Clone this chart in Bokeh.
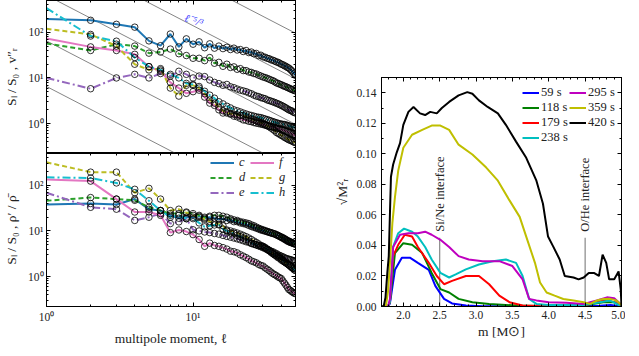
import math
from bokeh.plotting import figure
from bokeh.layouts import row, column
from bokeh.models import (LogAxis, LinearAxis, FixedTicker, Range1d, Legend, LegendItem,
                          Label, PrintfTickFormatter, CustomJSTickFormatter)
from bokeh.embed import file_html
from bokeh.resources import INLINE

# ---------------- data: left panels (multipole spectra) ----------------
ell = list(range(1, 51))

vr_c = [197, 184, 150, 130, 65, 51, 92, 48, 72, 55,
        62, 46, 56, 45, 50, 44, 47, 42, 45, 41,
        42, 38, 40, 36, 37, 34, 34.5, 31, 31.5, 29,
        28.5, 27, 26.5, 25, 24.5, 23.5, 22.5, 22, 21, 20,
        19.5, 18.5, 18, 17, 16.5, 15.5, 14.5, 13.5, 12.5, 11.5]
vr_d = [57, 40, 55, 50, 35, 37, 43, 34, 31, 27,
        27, 24, 28, 21, 22, 18, 20, 17, 17.5, 15.5,
        16, 14.5, 14.5, 13.5, 13.2, 12.5, 12.2, 11.5, 11, 10.5,
        10.2, 9.8, 9.4, 9.0, 8.7, 8.3, 7.8, 7.6, 7.3, 7.1,
        6.8, 6.6, 6.4, 6.2, 6.0, 5.8, 5.6, 5.5, 5.3, 5.2]
vr_e = [10, 5.8, 10, 12, 10, 12.5, 11, 14, 12, 10,
        11, 10.7, 9, 8, 7.5, 6.9, 7.2, 6.4, 6.1, 5.7,
        5.4, 5.2, 5.0, 4.7, 4.5, 4.2, 4.0, 3.9, 3.7, 3.6,
        3.5, 3.3, 3.2, 3.1, 3.0, 2.9, 2.8, 2.7, 2.6, 2.5,
        2.4, 2.3, 2.2, 2.1, 2.0, 1.95, 1.9, 1.8, 1.75, 1.7]
vr_f = [73, 48, 40, 33, 17.7, 14, 8, 6, 4.6, 5,
        5.4, 3.8, 2.8, 2.5, 2.0, 1.7, 1.8, 1.6, 1.45, 1.4,
        1.3, 1.2, 1.18, 1.12, 1.1, 1.05, 1.02, 1.0, 0.97, 0.95,
        0.92, 0.9, 0.88, 0.86, 0.84, 0.82, 0.8, 0.78, 0.76, 0.74,
        0.72, 0.7, 0.68, 0.66, 0.64, 0.62, 0.6, 0.58, 0.56, 0.54]
vr_g = [120, 90, 50, 20, 15, 16, 6, 4, 6.9, 6.9,
        6, 4.5, 3.3, 2.8, 2.3, 1.9, 1.7, 1.65, 1.6, 1.55,
        1.5, 1.5, 1.4, 1.32, 1.25, 1.2, 1.15, 1.1, 1.05, 1.0,
        0.95, 0.9, 0.85, 0.8, 0.75, 0.7, 0.64, 0.61, 0.58, 0.55,
        0.53, 0.5, 0.48, 0.46, 0.44, 0.43, 0.42, 0.4, 0.39, 0.38]
vr_h = [340, 83, 64, 28, 17.7, 15, 12, 10, 7.6, 7.2,
        6.5, 5.1, 4.2, 3.6, 3.0, 2.7, 2.4, 2.2, 2.0, 1.9,
        1.8, 1.7, 1.62, 1.55, 1.5, 1.45, 1.4, 1.37, 1.35, 1.3,
        1.26, 1.22, 1.18, 1.14, 1.1, 1.07, 1.04, 1.01, 0.99, 0.97,
        0.96, 0.95, 0.93, 0.91, 0.89, 0.87, 0.85, 0.83, 0.82, 0.8]

rho_c = [38, 40, 38, 50, 30, 28, 22, 19, 20, 20,
         21, 19, 20, 19, 18, 18.5, 17, 17.5, 16, 16,
         15, 14.5, 14, 13.2, 12.5, 12, 11.5, 11, 10.5, 10.2,
         9.9, 9.6, 9.3, 9.0, 8.8, 8.6, 8.3, 8.0, 7.6, 7.2,
         6.9, 6.6, 6.3, 6.0, 5.8, 5.6, 5.5, 5.4, 5.3, 5.2]
rho_d = [46, 54, 50, 47, 33, 28, 24, 24, 26, 24,
         22, 20, 21, 22, 22, 21, 20, 18.6, 17.5, 17,
         16, 15.5, 15, 14.5, 13.6, 13, 12.2, 11.5, 11, 10.6,
         10.2, 9.8, 9.5, 9.2, 8.9, 8.6, 8.2, 7.9, 7.6, 7.4,
         7.1, 6.8, 6.5, 6.2, 6.0, 5.8, 5.6, 5.4, 5.2, 5.1]
rho_e = [69, 33, 30, 17, 20, 24, 14.5, 15.8, 18.6, 10.6,
         10, 9.5, 9.2, 8.8, 8.5, 8.0, 7.6, 7.3, 7.0, 6.7,
         6.4, 6.1, 5.8, 5.6, 5.3, 5.1, 4.9, 4.7, 4.5, 4.3,
         4.1, 3.9, 3.8, 3.6, 3.5, 3.3, 3.2, 3.0, 2.9, 2.8,
         2.7, 2.6, 2.5, 2.45, 2.4, 2.35, 2.3, 2.25, 2.2, 2.15]
rho_f = [134, 124, 50, 26, 26, 22, 9.2, 10.5, 9.7, 8.3,
         6.5, 4.6, 5.4, 4.8, 4.6, 4.3, 4.0, 3.6, 3.5, 3.3,
         3.0, 2.8, 2.6, 2.4, 2.2, 2.1, 2.0, 1.85, 1.75, 1.7,
         1.55, 1.45, 1.35, 1.25, 1.16, 1.1, 1.05, 0.98, 0.94, 0.9,
         0.8, 0.72, 0.65, 0.58, 0.52, 0.5, 0.47, 0.45, 0.43, 0.42]
rho_g = [320, 195, 195, 69, 86, 50, 28, 30, 25, 22,
         20, 18, 16, 15, 14, 13, 10.5, 10, 9.5, 9,
         8.5, 8, 7.5, 7, 6.5, 6, 5.6, 5.2, 4.8, 4.6,
         4.3, 4.0, 3.7, 3.5, 3.2, 3.0, 2.8, 2.6, 2.5, 2.3,
         2.2, 2.1, 2.0, 1.9, 1.8, 1.7, 1.6, 1.55, 1.5, 1.45]
rho_h = [150, 145, 113, 82, 46, 28, 20, 22, 18.6, 18.6,
         15, 12.3, 13, 13.5, 13.6, 11, 10, 9, 8.9, 8,
         7.5, 7, 6.5, 6, 5.4, 5.2, 5, 4.8, 4.7, 4.6,
         4.3, 4.0, 3.7, 3.4, 3.2, 3.0, 2.9, 2.8, 2.7, 2.5,
         2.3, 2.1, 2.0, 1.9, 1.8, 1.7, 1.6, 1.5, 1.4, 1.35]

series_names = ["c", "d", "e", "f", "g", "h"]
series_colors = ["#1f77b4", "#2ca02c", "#9467bd", "#e377c2", "#bcbd22", "#17becf"]
series_dash = ["solid", "5 3", "8 3 2 3", "solid", "5 3", "8 3 2 3"]
vr_all = [vr_c, vr_d, vr_e, vr_f, vr_g, vr_h]
rho_all = [rho_c, rho_d, rho_e, rho_f, rho_g, rho_h]

# reference power-law lines  A * l^(-5/3)
ref_amp = [6.5, 65, 650, 6500, 65000]
ref_slope = -5.0 / 3.0
ref_ell = [1, 50]

# ---------------- data: right panel (Mach number profiles) ----------------
m_59 = [1.70, 1.79, 1.816, 1.885, 1.98, 2.09, 2.2, 2.35, 2.44, 2.56, 2.67, 2.86, 3.09, 4.0, 4.7, 4.85, 5.0]
v_59 = [0, 0, 0.002, 0.024, 0.032, 0.032, 0.0286, 0.024, 0.0135, 0.005, 0.002, 0.0006, 0.0002, 0.0001, 0.0005, 0.001, 0]
m_118 = [1.70, 1.79, 1.816, 1.885, 2.0, 2.12, 2.26, 2.39, 2.51, 2.63, 2.76, 2.95, 3.18, 3.55, 4.0, 4.48, 4.75, 4.9, 5.0]
v_118 = [0, 0, 0.003, 0.035, 0.0415, 0.0404, 0.035, 0.022, 0.0114, 0.0092, 0.005, 0.0028, 0.0017, 0.0006, 0.0002, 0.0006, 0.0028, 0.0028, 0]
m_179 = [1.70, 1.79, 1.816, 1.86, 1.93, 2.02, 2.12, 2.2, 2.35, 2.46, 2.56, 2.67, 2.86, 3.04, 3.18, 3.32, 3.46, 3.64, 4.0, 4.48, 4.75, 4.9, 5.0]
v_179 = [0, 0, 0.003, 0.033, 0.0404, 0.047, 0.0458, 0.039, 0.0286, 0.02, 0.0146, 0.0168, 0.02, 0.02, 0.0146, 0.0071, 0.0028, 0.0006, 0.0002, 0.0006, 0.004, 0.005, 0]
m_238 = [1.70, 1.79, 1.816, 1.86, 1.93, 2.01, 2.12, 2.2, 2.3, 2.39, 2.51, 2.63, 2.72, 2.86, 3.04, 3.23, 3.41, 3.55, 3.64, 3.73, 3.83, 4.0, 4.48, 4.7, 4.84, 5.0]
v_238 = [0, 0, 0.003, 0.039, 0.048, 0.051, 0.049, 0.0458, 0.039, 0.0308, 0.022, 0.019, 0.021, 0.0243, 0.0275, 0.0297, 0.0308, 0.0286, 0.02, 0.005, 0.0017, 0.001, 0.001, 0.0028, 0.004, 0]
m_295 = [1.70, 1.79, 1.816, 1.86, 1.955, 2.07, 2.2, 2.3, 2.39, 2.51, 2.63, 2.76, 2.9, 3.09, 3.32, 3.5, 3.64, 3.73, 3.83, 4.0, 4.24, 4.48, 4.66, 4.8, 4.9, 5.0]
v_295 = [0, 0, 0.005, 0.039, 0.047, 0.048, 0.048, 0.049, 0.047, 0.0437, 0.039, 0.033, 0.0308, 0.0297, 0.0297, 0.0265, 0.0178, 0.005, 0.004, 0.0028, 0.0024, 0.0017, 0.004, 0.006, 0.0054, 0.001]
m_359 = [1.70, 1.76, 1.79, 1.816, 1.85, 1.885, 1.93, 2.0, 2.12, 2.26, 2.39, 2.51, 2.63, 2.76, 2.95, 3.14, 3.30, 3.46, 3.60, 3.69, 3.81, 3.88, 3.97, 4.08, 4.20, 4.34, 4.48, 4.57, 4.66, 4.75, 4.84, 4.93, 5.0]
v_359 = [0, 0, 0.01, 0.0286, 0.055, 0.0716, 0.089, 0.104, 0.1125, 0.1157, 0.1185, 0.1185, 0.1157, 0.106, 0.0996, 0.091, 0.0824, 0.0695, 0.0587, 0.0458, 0.0286, 0.0157, 0.0092, 0.0071, 0.0049, 0.0039, 0.0028, 0.0017, 0.0039, 0.0049, 0.005, 0.004, 0.001]
m_420 = [1.70, 1.73, 1.755, 1.78, 1.80, 1.83, 1.86, 1.91, 1.955, 2.0, 2.07, 2.14, 2.23, 2.30, 2.37, 2.46, 2.53, 2.63, 2.76, 2.88, 2.95, 3.04, 3.16, 3.30, 3.41, 3.55, 3.69, 3.83, 3.92, 3.99, 4.06, 4.15, 4.22, 4.34, 4.41, 4.48, 4.55, 4.62, 4.69, 4.74, 4.79, 4.83, 4.90, 4.96, 4.99, 5.0]
v_420 = [0, 0, 0.006, 0.022, 0.033, 0.085, 0.093, 0.101, 0.107, 0.119, 0.1275, 0.1307, 0.1265, 0.1254, 0.1275, 0.1265, 0.130, 0.134, 0.1383, 0.1404, 0.1394, 0.135, 0.1307, 0.1265, 0.119, 0.108, 0.0974, 0.0824, 0.0673, 0.0458, 0.0394, 0.0308, 0.02, 0.019, 0.0178, 0.019, 0.022, 0.022, 0.02, 0.034, 0.0286, 0.0178, 0.0178, 0.023, 0.011, 0]

times = ["59 s", "118 s", "179 s", "238 s", "295 s", "359 s", "420 s"]
time_colors = ["#0000ff", "#008000", "#ff0000", "#00bfbf", "#bf00bf", "#bfbf00", "#000000"]
m_all = [m_59, m_118, m_179, m_238, m_295, m_359, m_420]
v_all = [v_59, v_118, v_179, v_238, v_295, v_359, v_420]

interfaces = [2.5, 4.5]
interface_labels = ["Si/Ne interface", "O/He interface"]
interface_top = 0.045

# ---------------- styling helpers ----------------
SERIF = "Liberation Serif"
TXT = "#222222"

log_major = [0.1, 1, 10, 100, 1000]
log_minor = [k * 10.0 ** e for e in (-1, 0, 1, 2) for k in range(2, 10)]
ell_minor = [k * 10.0 ** e for e in (0, 1) for k in range(2, 10)]
sup = {0.1: "10⁻¹", 1: "10⁰", 10: "10¹", 100: "10²", 1000: "10³"}


def style_axis(ax, labels=True):
    ax.major_tick_in = 4
    ax.major_tick_out = 0
    ax.minor_tick_in = 2
    ax.minor_tick_out = 0
    ax.axis_line_color = "black"
    ax.major_tick_line_color = "black"
    ax.minor_tick_line_color = "black"
    ax.major_label_text_font = SERIF
    ax.major_label_text_font_size = "11.5px"
    ax.major_label_text_color = TXT
    ax.axis_label_text_font = SERIF
    ax.axis_label_text_font_size = "13.5px"
    ax.axis_label_text_font_style = "normal"
    ax.axis_label_text_color = TXT
    if not labels:
        ax.formatter = CustomJSTickFormatter(code="return ''")
        ax.major_label_standoff = 0
        ax.major_label_text_font_size = "0px"


def tick_only(cls, ticker):
    ax = cls(ticker=ticker)
    style_axis(ax, labels=False)
    return ax


def left_panel(ylabel, top_panel):
    p = figure(x_axis_type="log", y_axis_type="log",
               x_range=Range1d(1, 50), y_range=Range1d(0.22, 500),
               frame_width=249, frame_height=153,
               min_border_left=44, min_border_right=19,
               min_border_top=0, min_border_bottom=0 if top_panel else 34,
               x_axis_location=None if top_panel else "below",
               toolbar_location=None, output_backend="svg")
    p.grid.visible = False
    p.outline_line_color = "black"
    p.outline_line_width = 1
    p.background_fill_color = "white"
    p.border_fill_color = "white"
    yt = FixedTicker(ticks=log_major, minor_ticks=log_minor)
    xt = FixedTicker(ticks=[1, 10], minor_ticks=ell_minor)
    ya = p.yaxis[0]
    ya.ticker = yt
    ya.major_label_overrides = sup
    ya.axis_label = ylabel
    style_axis(ya)
    ya.major_label_standoff = 3
    ya.axis_label_standoff = 6
    if not top_panel:
        xa = p.xaxis[0]
        xa.ticker = xt
        xa.major_label_overrides = sup
        xa.axis_label = "multipole moment, ℓ"
        style_axis(xa)
        xa.major_label_standoff = 4
        xa.axis_label_standoff = 5
    p.add_layout(tick_only(LogAxis, FixedTicker(ticks=log_major, minor_ticks=log_minor)), "right")
    p.add_layout(tick_only(LogAxis, FixedTicker(ticks=[1, 10], minor_ticks=ell_minor)), "above")
    return p


p_top = left_panel("Sₗ / S₀ , v″ᵣ", True)
p_bot = left_panel("Sₗ / S₀ , ρ′ / ρ̄", False)

# reference lines in top panel
for a in ref_amp:
    p_top.line(ref_ell, [a * l ** ref_slope for l in ref_ell], line_color="#333333", line_width=0.6)
p_top.add_layout(Label(x=8.8, y=215, text="ℓ⁻⁵/³", text_font=SERIF, text_font_style="italic",
                       text_font_size="11px", text_color="#4040ff", angle=-0.3,
                       text_align="left", text_baseline="middle"))

renderers_bot = []
for p, data in ((p_top, vr_all), (p_bot, rho_all)):
    for name, col, dash, vals in zip(series_names, series_colors, series_dash, data):
        r = p.line(ell, vals, line_color=col, line_width=2, line_dash=dash)
        if p is p_bot:
            renderers_bot.append(r)
    for vals in data:
        p.scatter(ell[1:], vals[1:], marker="circle", size=6.5, fill_color=None,
                  line_color="black", line_width=0.8)

leg_kw = dict(border_line_color=None, background_fill_alpha=0, padding=0, margin=0, spacing=0,
              glyph_width=24, glyph_height=13, label_height=13, label_standoff=5,
              label_text_font=SERIF, label_text_font_size="12.5px", label_text_font_style="italic",
              label_text_color=TXT)
leg_a = Legend(items=[LegendItem(label=series_names[i], renderers=[renderers_bot[i]]) for i in range(3)],
               location=(164, 106), **leg_kw)
leg_b = Legend(items=[LegendItem(label=series_names[i], renderers=[renderers_bot[i]]) for i in range(3, 6)],
               location=(204, 106), **leg_kw)
p_bot.add_layout(leg_a)
p_bot.add_layout(leg_b)

# ---------------- right panel ----------------
pr = figure(x_range=Range1d(1.7, 5.0), y_range=Range1d(0, 0.15),
            frame_width=240, frame_height=229,
            min_border_left=67, min_border_right=4, min_border_top=77, min_border_bottom=34,
            toolbar_location=None, output_backend="svg")
pr.grid.visible = False
pr.outline_line_color = "black"
xr_major = [2.0, 2.5, 3.0, 3.5, 4.0, 4.5, 5.0]
xr_minor = [round(1.7 + 0.1 * i, 2) for i in range(34)]
yr_major = [0.0, 0.02, 0.04, 0.06, 0.08, 0.10, 0.12, 0.14]
yr_minor = [round(0.01 * i, 2) for i in range(16)]
xa = pr.xaxis[0]
xa.ticker = FixedTicker(ticks=xr_major, minor_ticks=xr_minor)
xa.formatter = PrintfTickFormatter(format="%.1f")
xa.axis_label = "m [M⊙]"
style_axis(xa)
xa.major_label_standoff = 4
xa.axis_label_standoff = 2
ya = pr.yaxis[0]
ya.ticker = FixedTicker(ticks=yr_major, minor_ticks=yr_minor)
ya.formatter = PrintfTickFormatter(format="%.2f")
ya.axis_label = "√M²ᵣ"
style_axis(ya)
ya.major_label_standoff = 5
ya.axis_label_standoff = 3
pr.add_layout(tick_only(LinearAxis, FixedTicker(ticks=yr_major, minor_ticks=yr_minor)), "right")
pr.add_layout(tick_only(LinearAxis, FixedTicker(ticks=xr_major, minor_ticks=xr_minor)), "above")

for xm, lab in zip(interfaces, interface_labels):
    pr.line([xm, xm], [0, interface_top], line_color="#888888", line_width=1.2)
    pr.add_layout(Label(x=xm, y=interface_top + 0.004, text=lab, angle=math.pi / 2,
                        text_font=SERIF, text_font_size="12.5px", text_color=TXT,
                        text_align="left", text_baseline="middle"))
pr.line([3.5, 3.5], [0, 0.003], line_color="#888888", line_width=1.2)

r_times = []
for t, col, mm, vv in zip(times, time_colors, m_all, v_all):
    r_times.append(pr.line(mm, vv, line_color=col, line_width=2))

rleg_kw = dict(border_line_color=None, background_fill_alpha=0, padding=0, margin=0, spacing=0,
               glyph_width=17, glyph_height=15, label_height=15, label_standoff=2,
               label_text_font=SERIF, label_text_font_size="12.5px", label_text_color=TXT)
rleg_a = Legend(items=[LegendItem(label=times[i], renderers=[r_times[i]]) for i in range(4)],
                location=(141, 161), **rleg_kw)
rleg_b = Legend(items=[LegendItem(label=times[i], renderers=[r_times[i]]) for i in range(4, 7)],
                location=(188, 176), **rleg_kw)
pr.add_layout(rleg_a)
pr.add_layout(rleg_b)

layout = row(column(p_top, p_bot), pr)
open("out.html", "w").write(file_html(layout, INLINE))
